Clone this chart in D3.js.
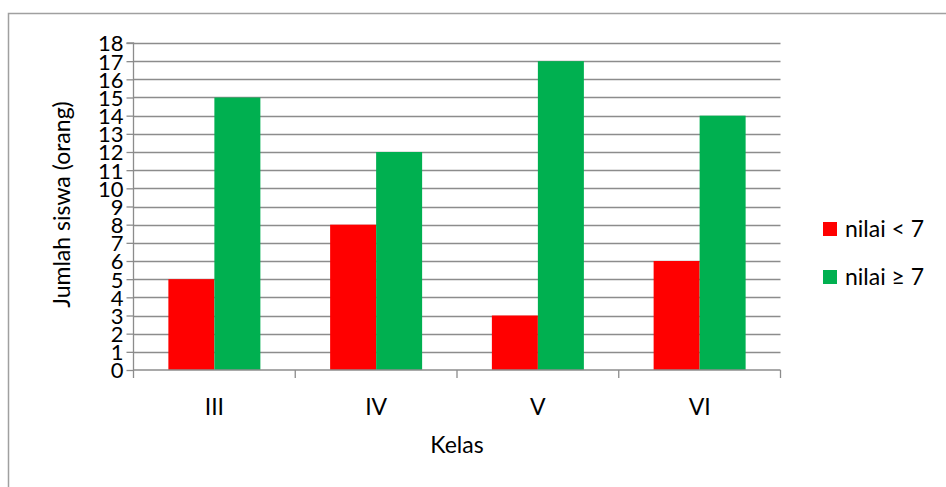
<!DOCTYPE html>
<html><head><meta charset="utf-8">
<script src="https://cdn.jsdelivr.net/npm/d3@7"></script>
<style>body{margin:0;background:#fff}svg{display:block}text{font-family:Lato,"Open Sans",sans-serif;fill:#000}</style>
</head><body>
<script>
const categories = ["III","IV","V","VI"];
const seriesNames = ["nilai < 7","nilai \u2265 7"];
const below7 = [5,8,3,6];
const above7 = [15,12,17,14];
const yTicks = d3.range(0,19);
const colors = ["#ff0000","#00b050"];

const W=946,H=487;
const svg=d3.select("body").append("svg").attr("width",W).attr("height",H);
svg.append("path").attr("d","M8.5,487 L8.5,13.5 L946,13.5").attr("fill","none").attr("stroke","#a0a0a0").attr("stroke-width",1.5);

const x0=133.5,x1=780.5,yTop=43,yBot=370;
const x=d3.scaleBand().domain(categories).range([x0,x1]);
const xs=d3.scaleBand().domain([0,1]).range([0,92]);
const y=d3.scaleLinear().domain([0,18]).range([yBot,yTop]);

const g=svg.append("g");
g.selectAll(".grid").data(yTicks.slice(1)).join("line")
 .attr("x1",x0).attr("x2",x1).attr("y1",d=>Math.round(y(d))+0.5).attr("y2",d=>Math.round(y(d))+0.5)
 .attr("stroke","#8c8c8c").attr("stroke-width",1.3);

const data=categories.map((c,i)=>({c,vals:[below7[i],above7[i]]}));
const grp=g.selectAll(".grp").data(data).join("g").attr("transform",d=>`translate(${x(d.c)+x.bandwidth()/2-46},0)`);
grp.selectAll("rect").data(d=>d.vals.map((v,k)=>({v,k}))).join("rect")
 .attr("x",d=>xs(d.k)).attr("width",xs.bandwidth()).attr("y",d=>y(d.v)).attr("height",d=>y(0)-y(d.v))
 .attr("fill",d=>colors[d.k]);

const ya=svg.append("g").attr("transform",`translate(${x0},0)`)
 .call(d3.axisLeft(y).tickValues(yTicks).tickSize(7).tickPadding(3).tickFormat(d3.format("d")));
ya.select(".domain").attr("stroke","#8c8c8c").attr("stroke-width",1.3).attr("d",`M-7,${yTop}H0V${yBot}`);
ya.selectAll(".tick line").attr("stroke","#8c8c8c").attr("stroke-width",1.3);
ya.selectAll("text").style("font-size","22px").attr("dy","0.36em");

const xa=svg.append("g").attr("transform",`translate(0,${yBot})`)
 .call(d3.axisBottom(x).tickSize(0).tickPadding(29));
xa.select(".domain").attr("stroke","#8c8c8c").attr("stroke-width",1.3).attr("d",`M${x0},0H${x1}`);
xa.selectAll("text").style("font-size","23px");
const bounds=[x0].concat(categories.map(c=>x(c)+x.bandwidth()));
xa.selectAll(".sep").data(bounds).join("line").attr("x1",d=>d).attr("x2",d=>d).attr("y1",0).attr("y2",8)
 .attr("stroke","#8c8c8c").attr("stroke-width",1.3);

svg.append("text").attr("x",(x0+x1)/2).attr("y",453).attr("text-anchor","middle").style("font-size","23px").text("Kelas");
svg.append("text").attr("transform",`translate(70,${(yTop+yBot)/2-2}) rotate(-90)`).attr("text-anchor","middle").style("font-size","23px").text("Jumlah siswa (orang)");

const lg=svg.append("g").selectAll("g").data(seriesNames).join("g").attr("transform",(d,i)=>`translate(823,${222+i*48})`);
lg.append("rect").attr("width",14).attr("height",14).attr("fill",(d,i)=>colors[i]);
lg.append("text").attr("x",22).attr("y",7).attr("dy","0.36em").style("font-size","23px").text(d=>d);
</script>
</body></html>
